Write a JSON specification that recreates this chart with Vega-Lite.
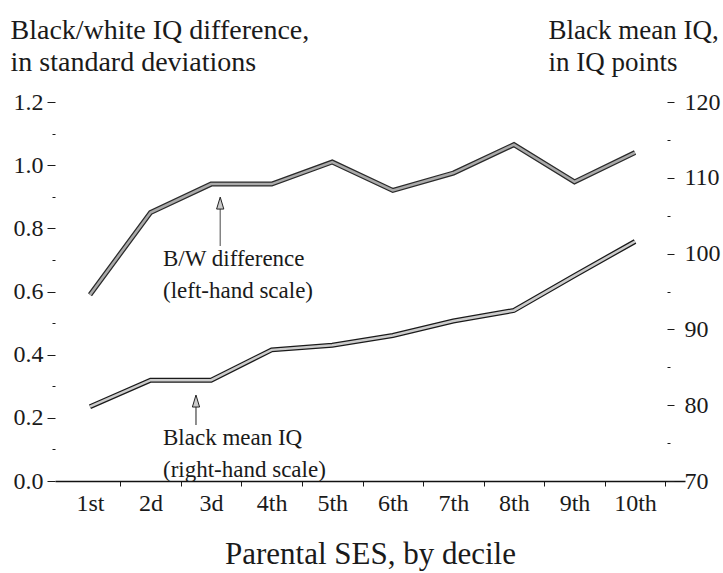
{
  "$schema": "https://vega.github.io/schema/vega-lite/v6.json",
  "width": 630,
  "height": 379,
  "autosize": {"type": "none"},
  "padding": {"left": 55, "top": 102, "right": 38, "bottom": 92},
  "background": "white",
  "config": {
    "view": {"stroke": null},
    "font": "Liberation Serif",
    "axis": {"labelFont": "Liberation Serif", "titleFont": "Liberation Serif", "labelColor": "#1a1a1a", "titleColor": "#1a1a1a", "tickColor": "#1a1a1a", "titleFontWeight": "normal", "grid": false}
  },
  "datasets": {
    "series": [
      {"decile": 1, "bw": 0.59, "iq": 79.8},
      {"decile": 2, "bw": 0.85, "iq": 83.3},
      {"decile": 3, "bw": 0.94, "iq": 83.3},
      {"decile": 4, "bw": 0.94, "iq": 87.3},
      {"decile": 5, "bw": 1.01, "iq": 87.9},
      {"decile": 6, "bw": 0.92, "iq": 89.2},
      {"decile": 7, "bw": 0.975, "iq": 91.1},
      {"decile": 8, "bw": 1.065, "iq": 92.5},
      {"decile": 9, "bw": 0.947, "iq": 97.1},
      {"decile": 10, "bw": 1.04, "iq": 101.6}
    ]
  },
  "encoding": {
    "x": {
      "field": "decile",
      "type": "quantitative",
      "scale": {"domain": [0.422, 10.825], "nice": false, "zero": false},
      "axis": {
        "values": [1.5, 2.5, 3.5, 4.5, 5.5, 6.5, 7.5, 8.5, 9.5, 10.5],
        "labelExpr": "['1st','2d','3d','4th','5th','6th','7th','8th','9th','10th'][floor(datum.value)-1]",
        "labelOffset": -30.3,
        "labelOverlap": false,
        "labelFlush": false,
        "labelBound": false,
        "tickSize": 5,
        "tickWidth": 1,
        "domainColor": "#111",
        "domainWidth": 1.5,
        "labelFontSize": 24,
        "labelPadding": 5,
        "title": "Parental SES, by decile",
        "titleFontSize": 31,
        "titlePadding": 24
      }
    }
  },
  "layer": [
    {
      "encoding": {
        "y": {
          "field": "bw",
          "type": "quantitative",
          "scale": {"domain": [0, 1.2], "nice": false, "zero": false},
          "axis": {
            "orient": "left",
            "values": [0, 0.1, 0.2, 0.3, 0.4, 0.5, 0.6, 0.7, 0.8, 0.9, 1.0, 1.1, 1.2],
            "labelExpr": "round(datum.value*10)%2==0 ? format(datum.value,'.1f') : ''",
            "tickSize": {"condition": {"test": "round(datum.value*10)%2==0", "value": 8}, "value": 3},
            "domain": false,
            "labelFontSize": 24,
            "labelPadding": 4,
            "labelBaseline": "middle",
            "title": ["Black/white IQ difference,", "in standard deviations"],
            "titleFontSize": 28,
            "titleAngle": 0,
            "titleAlign": "left",
            "titleBaseline": "alphabetic",
            "titleX": -45,
            "titleY": -64,
            "titleLineHeight": 32
          }
        }
      },
      "layer": [
        {"data": {"name": "series"}, "mark": {"type": "line", "stroke": "#2a2a2a", "strokeWidth": 5}},
        {"data": {"name": "series"}, "mark": {"type": "line", "stroke": "#aaaaaa", "strokeWidth": 2.5}},
        {
          "data": {"values": [{"decile": 3.15, "bw": 0.744, "bw2": 0.874}]},
          "mark": {"type": "rule", "stroke": "#666", "strokeWidth": 1.2},
          "encoding": {"y2": {"field": "bw2"}}
        },
        {
          "data": {"values": [{"decile": 3.15, "bw": 0.88}]},
          "mark": {"type": "point", "shape": "M 0 -1 L 0.6 1 L -0.6 1 Z", "size": 144, "filled": true, "fill": "#cccccc", "stroke": "#222", "strokeWidth": 1, "opacity": 1}
        },
        {
          "data": {"values": [{"decile": 2.205, "bw": 0.681, "txt": "B/W difference\n(left-hand scale)"}]},
          "mark": {"type": "text", "align": "left", "baseline": "alphabetic", "lineBreak": "\n", "lineHeight": 32, "fontSize": 23, "font": "Liberation Serif", "color": "#1a1a1a"},
          "encoding": {"text": {"field": "txt"}}
        }
      ]
    },
    {
      "encoding": {
        "y": {
          "field": "iq",
          "type": "quantitative",
          "scale": {"domain": [70, 120], "nice": false, "zero": false},
          "axis": {
            "orient": "right",
            "offset": -18,
            "values": [70, 75, 80, 85, 90, 95, 100, 105, 110, 115, 120],
            "labelExpr": "datum.value % 10 == 0 ? datum.label : ''",
            "tickSize": {"condition": {"test": "datum.value % 10 == 0", "value": 7}, "value": 3},
            "domain": false,
            "labelFontSize": 24,
            "labelPadding": 10,
            "labelBaseline": "middle",
            "title": ["Black mean IQ,", "in IQ points"],
            "titleFontSize": 27,
            "titleAngle": 0,
            "titleAlign": "left",
            "titleBaseline": "alphabetic",
            "titleX": -119,
            "titleY": -64,
            "titleLineHeight": 32
          }
        }
      },
      "layer": [
        {"data": {"name": "series"}, "mark": {"type": "line", "stroke": "#1a1a1a", "strokeWidth": 5}},
        {"data": {"name": "series"}, "mark": {"type": "line", "stroke": "#cccccc", "strokeWidth": 2.5}},
        {
          "data": {"values": [{"decile": 2.75, "iq": 77.39, "iq2": 80.29}]},
          "mark": {"type": "rule", "stroke": "#444", "strokeWidth": 1.2},
          "encoding": {"y2": {"field": "iq2"}}
        },
        {
          "data": {"values": [{"decile": 2.75, "iq": 80.55}]},
          "mark": {"type": "point", "shape": "M 0 -1 L 0.6 1 L -0.6 1 Z", "size": 144, "filled": true, "fill": "#cccccc", "stroke": "#222", "strokeWidth": 1, "opacity": 1}
        },
        {
          "data": {"values": [{"decile": 2.205, "iq": 74.75, "txt": "Black mean IQ\n(right-hand scale)"}]},
          "mark": {"type": "text", "align": "left", "baseline": "alphabetic", "lineBreak": "\n", "lineHeight": 32, "fontSize": 23, "font": "Liberation Serif", "color": "#1a1a1a"},
          "encoding": {"text": {"field": "txt"}}
        }
      ]
    }
  ],
  "resolve": {"scale": {"y": "independent"}}
}
